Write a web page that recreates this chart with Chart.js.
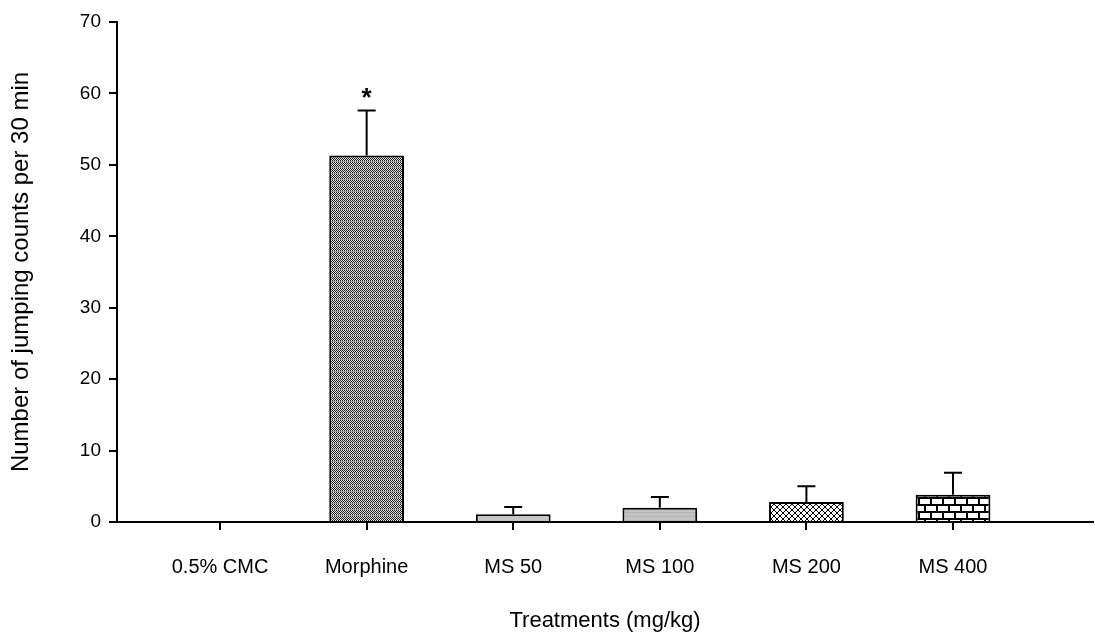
<!DOCTYPE html>
<html>
<head>
<meta charset="utf-8">
<script src="https://cdn.jsdelivr.net/npm/chart.js@4/dist/chart.umd.min.js"></script>
<style>
body{margin:0;background:#fff;}
</style>
</head>
<body>
<canvas id="jumpChart" width="1095" height="634"></canvas>
<script>
// jumping counts per treatment

const treatments = ["0.5% CMC", "Morphine", "MS 50", "MS 100", "MS 200", "MS 400"];
const meanCounts = [0, 51.3, 1.1, 2.0, 2.8, 3.8];
const semCounts = [0, 6.3, 1.0, 1.5, 2.2, 3.1];
const markers = ["", "*", "", "", "", ""];
const yTicks = [0, 10, 20, 30, 40, 50, 60, 70];

const fontFamily = "'Liberation Sans', Arial, sans-serif";


function makeTile(w, h, draw){
  let c = document.createElement("canvas");
  c.width = w;
  c.height = h;
  let g = c.getContext("2d");
  draw(g, w, h);
  return g.createPattern(c, "repeat");
}

// dense checker mesh for morphine
let meshFill = makeTile(4, 6, (g)=>{
  g.fillStyle = "#e2e2e2";
  g.fillRect(0, 0, 4, 6);
  g.fillStyle = "#1e1e1e";
  for(let y=0; y<6; y++){
    for(let x=0; x<4; x++){
      if((x + y) % 2 === 0) g.fillRect(x, y, 1, 1);
    }
  }
  g.fillStyle = "#9a9a9a";
  g.fillRect(0, 5, 4, 1);
});

// light texture for MS 100
let greyFill = makeTile(4, 4, (g)=>{
  g.fillStyle = "#c2c2c2";
  g.fillRect(0, 0, 4, 4);
  g.fillStyle = "#b4b4b4";
  g.fillRect(0, 0, 4, 1);
});

// diamond crosshatch for MS 200
let hatchFill = makeTile(6, 6, (g)=>{
  g.fillStyle = "#ffffff";
  g.fillRect(0, 0, 6, 6);
  g.strokeStyle = "#000";
  g.lineWidth = 1;
  g.beginPath();
  g.moveTo(0, 0); g.lineTo(6, 6);
  g.moveTo(6, 0); g.lineTo(0, 6);
  g.stroke();
});

// brick wall for MS 400
let brickFill = makeTile(24, 14, (g)=>{
  g.fillStyle = "#ffffff";
  g.fillRect(0, 0, 24, 14);
  g.fillStyle = "#000";
  g.fillRect(0, 0, 24, 2);
  g.fillRect(0, 7, 24, 2);
  g.fillRect(0, 0, 2, 7);
  g.fillRect(12, 0, 2, 7);
  g.fillRect(6, 7, 2, 7);
  g.fillRect(18, 7, 2, 7);
});

const barFills = ["#ffffff", meshFill, "#c6c6c6", greyFill, hatchFill, brickFill];


// error bars + asterisk
const errorBars = {
  id: "errorBars",
  afterDatasetsDraw(chart){
    let ctx = chart.ctx;
    let meta = chart.getDatasetMeta(0);
    let yScale = chart.scales.y;
    ctx.save();
    ctx.strokeStyle = "#000";
    ctx.lineWidth = 2;
    meta.data.forEach((bar, i)=>{
      let top = yScale.getPixelForValue(meanCounts[i] + semCounts[i]);
      if(semCounts[i] > 0){
        ctx.beginPath();
        ctx.moveTo(bar.x, bar.y);
        ctx.lineTo(bar.x, top);
        ctx.moveTo(bar.x - 9, top);
        ctx.lineTo(bar.x + 9, top);
        ctx.stroke();
      }
      if(markers[i]){
        ctx.fillStyle = "#000";
        ctx.font = "bold 26px " + fontFamily;
        ctx.textAlign = "center";
        ctx.textBaseline = "middle";
        ctx.fillText(markers[i], bar.x, top - 12);
      }
    });
    ctx.restore();
  }
};


new Chart(document.getElementById("jumpChart"), {
  type: "bar",
  data: {
    datasets: [{
      data: meanCounts.map((v, i)=>({x: i, y: v})),
      backgroundColor: barFills,
      borderColor: "#000",
      borderWidth: 2,
      categoryPercentage: 1,
      barPercentage: 0.51
    }]
  },
  options: {
    responsive: false,
    animation: false,
    layout: {padding: {top: 22, right: 2, left: 0, bottom: 0}},
    plugins: {legend: {display: false}, tooltip: {enabled: false}},
    scales: {
      x: {
        type: "linear",
        offset: false,
        min: -0.703,
        max: 5.955,
        afterBuildTicks(scale){
          scale.ticks = treatments.map((t, i)=>({value: i}));
        },
        afterFit(scale){
          scale.height = 112;
        },
        ticks: {
          callback: (v)=>treatments[v],
          color: "#000",
          padding: 25,
          maxRotation: 0,
          autoSkip: false,
          font: {family: fontFamily, size: 20}
        },
        grid: {drawOnChartArea: false, offset: false, color: "#000", lineWidth: 2, tickLength: 8},
        border: {color: "#000", width: 2},
        title: {
          display: true,
          text: "Treatments (mg/kg)",
          color: "#000",
          padding: {top: 0, bottom: 0},
          font: {family: fontFamily, size: 22}
        }
      },
      y: {
        min: 0,
        max: 70,
        afterBuildTicks(scale){
          scale.ticks = yTicks.map(v=>({value: v}));
        },
        afterFit(scale){
          scale.width = 117;
        },
        ticks: {
          color: "#000",
          padding: 8,
          font: {family: fontFamily, size: 19}
        },
        grid: {drawOnChartArea: false, color: "#000", lineWidth: 2, tickLength: 8},
        border: {color: "#000", width: 2},
        title: {
          display: true,
          text: "Number of jumping counts per 30 min",
          color: "#000",
          padding: {top: 7, bottom: 0},
          font: {family: fontFamily, size: 24}
        }
      }
    }
  },
  plugins: [errorBars]
});
</script>
</body>
</html>
